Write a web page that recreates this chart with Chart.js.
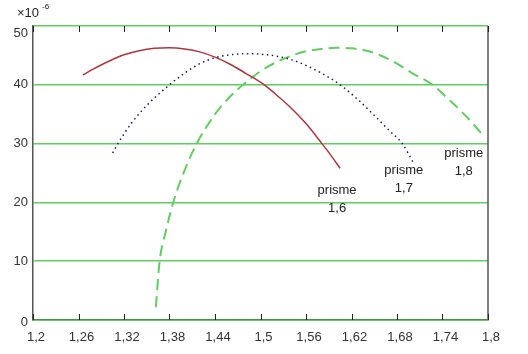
<!DOCTYPE html>
<html><head><meta charset="utf-8">
<script src="https://cdn.jsdelivr.net/npm/chart.js@4/dist/chart.umd.min.js"></script>
<style>html,body{margin:0;padding:0;background:#fff}#wrap{width:528px;height:354px}</style>
</head><body><div id="wrap"><canvas id="c" width="528" height="354"></canvas></div>
<script>
const xTicks = [1.2,1.26,1.32,1.38,1.44,1.5,1.56,1.62,1.68,1.74,1.8];
const xTickLabels = ["1,2","1,26","1,32","1,38","1,44","1,5","1,56","1,62","1,68","1,74","1,8"];
const yTicks = [0,10,20,30,40,50];

const prisme16X = [1.266,1.28,1.30,1.32,1.34,1.36,1.38,1.40,1.42,1.44,1.46,1.48,1.505,1.52,1.54,1.56,1.581,1.59,1.605];
const prisme16Y = [41.7,42.7,44.0,45.1,45.8,46.2,46.3,46.1,45.6,44.7,43.5,42.0,40.0,38.4,36.1,33.4,30.0,28.5,25.8];

const prisme17X = [1.305,1.312,1.33,1.35,1.38,1.40,1.42,1.44,1.46,1.48,1.50,1.52,1.54,1.56,1.58,1.605,1.63,1.65,1.67,1.687,1.701];
const prisme17Y = [28.4,30.0,33.5,36.5,40.0,42.0,43.6,44.6,45.1,45.3,45.2,44.9,44.3,43.3,42.0,40.0,37.3,34.8,32.2,30.0,26.9];

const prisme18X = [1.362,1.367,1.375,1.385,1.40,1.416,1.44,1.46,1.477,1.50,1.52,1.54,1.56,1.58,1.60,1.62,1.64,1.66,1.68,1.70,1.727,1.75,1.77,1.793];
const prisme18Y = [2.2,10.0,15.0,20.0,25.5,30.0,35.0,38.0,40.0,42.3,43.8,44.9,45.7,46.1,46.3,46.2,45.8,44.9,43.6,42.0,40.0,37.3,34.8,31.5];

const labelNames = [["prisme","1,6"],["prisme","1,7"],["prisme","1,8"]];
const labelX = [1.601,1.689,1.768];
const labelY = [22.1,25.4,28.3];

function pts(xs, ys){ return xs.map((x,i)=>({x:x,y:ys[i]})); }

const FONT = '"Liberation Sans", Arial, sans-serif';

const deco = {
  id:'deco',
  afterDraw(chart){
    const ctx = chart.ctx, a = chart.chartArea, xs = chart.scales.x, ys = chart.scales.y;
    ctx.save();
    // right border
    ctx.strokeStyle = '#555'; ctx.lineWidth = 1.5;
    ctx.beginPath(); ctx.moveTo(a.right, a.top); ctx.lineTo(a.right, a.bottom); ctx.stroke();
    // inner tick marks
    ctx.strokeStyle = '#222'; ctx.lineWidth = 1;
    xTicks.forEach(v=>{
      const p = Math.round(xs.getPixelForValue(v))+0.5;
      ctx.beginPath(); ctx.moveTo(p, a.bottom); ctx.lineTo(p, a.bottom-6); ctx.stroke();
      ctx.beginPath(); ctx.moveTo(p, a.top); ctx.lineTo(p, a.top+6); ctx.stroke();
    });
    // y tick labels
    ctx.fillStyle = '#333';
    ctx.font = '13px ' + FONT;
    ctx.textAlign = 'right'; ctx.textBaseline = 'middle';
    yTicks.forEach(v=>{
      let py = ys.getPixelForValue(v);
      if (v === yTicks[yTicks.length-1]) py += 7;
      if (v === yTicks[0]) py += 2;
      ctx.fillText(String(v), a.left - 5, py);
    });
    // multiplier
    ctx.fillStyle = '#222';
    ctx.font = '13px ' + FONT;
    ctx.textBaseline = 'alphabetic'; ctx.textAlign = 'left';
    ctx.fillText('\u00d710', 17, 17);
    ctx.font = '8px ' + FONT;
    ctx.fillText('-6', 42, 9);
    // prism labels
    ctx.font = '13px ' + FONT;
    ctx.textAlign = 'center'; ctx.textBaseline = 'middle';
    labelNames.forEach((ln,i)=>{
      const px = xs.getPixelForValue(labelX[i]);
      const py = ys.getPixelForValue(labelY[i]);
      ctx.fillText(ln[0], px, py);
      ctx.fillText(ln[1], px, py+18);
    });
    ctx.restore();
  }
};

new Chart(document.getElementById('c'), {
  type:'scatter',
  data:{datasets:[
    {data:pts(prisme16X,prisme16Y), showLine:true, borderColor:'#b0363c', borderWidth:1.5, pointRadius:0, tension:0.4, cubicInterpolationMode:'monotone'},
    {data:pts(prisme17X,prisme17Y), showLine:true, borderColor:'#1c1c5a', borderWidth:1.5, borderDash:[1.5,3.5], pointRadius:0, tension:0.4, cubicInterpolationMode:'monotone'},
    {data:pts(prisme18X,prisme18Y), showLine:true, borderColor:'#5fcf5f', borderWidth:2, borderDash:[11,6], pointRadius:0, tension:0.4, cubicInterpolationMode:'monotone'}
  ]},
  options:{
    responsive:false, animation:false, devicePixelRatio:1,
    layout:{padding:{top:26,right:40,left:0,bottom:0}},
    plugins:{legend:{display:false}, tooltip:{enabled:false}},
    scales:{
      x:{type:'linear', min:1.2, max:1.8,
        afterBuildTicks(s){ s.ticks = xTicks.map(v=>({value:v})); },
        afterFit(s){ s.height = 34; },
        ticks:{autoSkip:false, maxRotation:0, padding:2, labelOffset:3, color:'#333', font:{size:13, family:FONT},
          callback:(v,i)=>xTickLabels[i]},
        grid:{display:false},
        border:{display:true, color:'#3a9a3a', width:1.5}
      },
      y:{min:0, max:50,
        afterBuildTicks(s){ s.ticks = yTicks.map(v=>({value:v})); },
        afterFit(s){ s.width = 33; },
        ticks:{display:false},
        grid:{color:'#5fcf5f', lineWidth:1.5, drawTicks:false},
        border:{display:true, color:'#555', width:1.5}
      }
    }
  },
  plugins:[deco]
});
</script></body></html>
